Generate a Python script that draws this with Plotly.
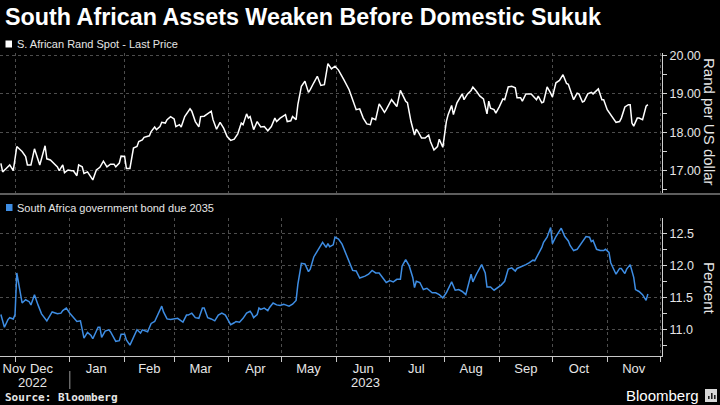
import plotly.graph_objects as go

TITLE = "South African Assets Weaken Before Domestic Sukuk"
RAND_NAME = "S. African Rand Spot - Last Price"
BOND_NAME = "South Africa government bond due 2035"

rand_dates = [
    "2022-11-23", "2022-11-24", "2022-11-26", "2022-11-28", "2022-11-30",
    "2022-12-02", "2022-12-05", "2022-12-07", "2022-12-08", "2022-12-10", "2022-12-12", "2022-12-14",
    "2022-12-15", "2022-12-18", "2022-12-19", "2022-12-21", "2022-12-23", "2022-12-25", "2022-12-26",
    "2022-12-28", "2022-12-29", "2022-12-31",
    "2023-01-02", "2023-01-03", "2023-01-05", "2023-01-06", "2023-01-08", "2023-01-09", "2023-01-11",
    "2023-01-12", "2023-01-14", "2023-01-16", "2023-01-18", "2023-01-20", "2023-01-22", "2023-01-24",
    "2023-01-26", "2023-01-27", "2023-01-29", "2023-01-30",
    "2023-02-01", "2023-02-02", "2023-02-04", "2023-02-06", "2023-02-08", "2023-02-09", "2023-02-11",
    "2023-02-12", "2023-02-15", "2023-02-16", "2023-02-18", "2023-02-19", "2023-02-21", "2023-02-22",
    "2023-02-24", "2023-02-25", "2023-02-27",
    "2023-03-01", "2023-03-02", "2023-03-04", "2023-03-05", "2023-03-07", "2023-03-10", "2023-03-11",
    "2023-03-13", "2023-03-15", "2023-03-16", "2023-03-18", "2023-03-20", "2023-03-22", "2023-03-23",
    "2023-03-25", "2023-03-27", "2023-03-29", "2023-03-31",
    "2023-04-02", "2023-04-04", "2023-04-06", "2023-04-08", "2023-04-09", "2023-04-11", "2023-04-12",
    "2023-04-13", "2023-04-15", "2023-04-17", "2023-04-19", "2023-04-21", "2023-04-23", "2023-04-25",
    "2023-04-27", "2023-04-28", "2023-04-30",
    "2023-05-03", "2023-05-04", "2023-05-06", "2023-05-07", "2023-05-09", "2023-05-10", "2023-05-12",
    "2023-05-14", "2023-05-16", "2023-05-17", "2023-05-19", "2023-05-21", "2023-05-23", "2023-05-25",
    "2023-05-27", "2023-05-29", "2023-05-31",
    "2023-06-02", "2023-06-05", "2023-06-08", "2023-06-10", "2023-06-12", "2023-06-14", "2023-06-16",
    "2023-06-18", "2023-06-20", "2023-06-21", "2023-06-23", "2023-06-25", "2023-06-28", "2023-06-29",
    "2023-07-02", "2023-07-05", "2023-07-07", "2023-07-10", "2023-07-11", "2023-07-13", "2023-07-15",
    "2023-07-16", "2023-07-17", "2023-07-19", "2023-07-21", "2023-07-23", "2023-07-24", "2023-07-26",
    "2023-07-28", "2023-07-29", "2023-07-31",
    "2023-08-02", "2023-08-03", "2023-08-05", "2023-08-06", "2023-08-08", "2023-08-10", "2023-08-11",
    "2023-08-12", "2023-08-14", "2023-08-16", "2023-08-17", "2023-08-19", "2023-08-21", "2023-08-23",
    "2023-08-24", "2023-08-25", "2023-08-26", "2023-08-27", "2023-08-29", "2023-08-30",
    "2023-09-01", "2023-09-03", "2023-09-04", "2023-09-06", "2023-09-08", "2023-09-10", "2023-09-11",
    "2023-09-13", "2023-09-14", "2023-09-16", "2023-09-19", "2023-09-20", "2023-09-22", "2023-09-23",
    "2023-09-25", "2023-09-26", "2023-09-28", "2023-09-30",
    "2023-10-01", "2023-10-03", "2023-10-05", "2023-10-07", "2023-10-09", "2023-10-10", "2023-10-13",
    "2023-10-15", "2023-10-16", "2023-10-18", "2023-10-19", "2023-10-21", "2023-10-23", "2023-10-24",
    "2023-10-27", "2023-10-29", "2023-10-30",
    "2023-11-01", "2023-11-03", "2023-11-06", "2023-11-08", "2023-11-09", "2023-11-11", "2023-11-13",
    "2023-11-14", "2023-11-15", "2023-11-16", "2023-11-18", "2023-11-19", "2023-11-21", "2023-11-23",
    "2023-11-24",
]
rand_values = [
    17.19, 16.97, 17.06, 17.15, 17.00,
    17.63, 17.50, 17.37, 17.15, 17.15, 17.57, 17.28,
    17.15, 17.65, 17.31, 17.28, 17.19, 17.10, 17.00,
    17.15, 16.95, 17.02,
    17.00, 17.00, 16.87, 17.15, 17.10, 16.93, 16.97,
    16.89, 16.76, 17.02, 17.09, 17.25, 17.10, 17.17,
    17.17, 17.10, 17.20, 17.38,
    17.37, 17.06, 17.06, 17.59, 17.63, 17.76, 17.80,
    17.87, 17.91, 18.02, 18.14, 18.07, 18.15, 18.26,
    18.24, 18.33, 18.41,
    18.35, 18.15, 18.20, 18.14, 18.41, 18.61, 18.55,
    18.28, 18.14, 18.41, 18.42, 18.48, 18.55, 18.33,
    18.08, 18.26, 18.11, 17.89,
    17.79, 17.82, 17.96, 18.24, 18.20, 18.48, 18.37,
    18.41, 18.07, 18.28, 18.14, 18.15, 18.04, 18.15,
    18.37, 18.28, 18.37,
    18.46, 18.28, 18.30, 18.41, 18.33, 18.72, 19.20,
    19.33, 19.04, 19.11, 19.29, 19.46, 19.22, 19.24,
    19.79, 19.65, 19.72,
    19.62, 19.37, 19.11, 18.85, 18.59, 18.61, 18.37,
    18.22, 18.20, 18.37, 18.33, 18.74, 18.52, 18.59,
    18.85, 18.67, 19.09, 18.81, 18.77, 18.28, 17.93,
    18.08, 18.02, 17.85, 17.85, 17.93, 17.76, 17.54,
    17.63, 17.82, 17.61,
    18.28, 18.46, 18.70, 18.46, 18.77, 18.94, 19.00,
    18.85, 19.00, 19.09, 19.18, 19.07, 18.94, 18.87,
    18.70, 18.48, 18.81, 18.63, 18.59, 18.50,
    18.67, 18.87, 18.85, 19.18, 19.20, 19.16, 18.90,
    18.90, 18.81, 19.00, 19.00, 18.94, 18.85, 18.94,
    18.77, 18.79, 19.18, 19.02,
    18.92, 19.29, 19.35, 19.50, 19.27, 19.25, 18.85,
    19.02, 19.00, 18.79, 18.81, 19.00, 19.04, 19.00,
    19.13, 18.85, 18.85,
    18.59, 18.46, 18.26, 18.28, 18.37, 18.66, 18.72,
    18.72, 18.24, 18.16, 18.37, 18.37, 18.33, 18.68,
    18.72,
]

bond_dates = [
    "2022-11-23", "2022-11-25", "2022-11-27", "2022-11-28", "2022-11-30",
    "2022-12-01", "2022-12-02", "2022-12-04", "2022-12-05", "2022-12-07", "2022-12-09", "2022-12-10",
    "2022-12-12", "2022-12-14", "2022-12-16", "2022-12-19", "2022-12-21", "2022-12-22", "2022-12-25",
    "2022-12-27", "2022-12-28", "2022-12-30",
    "2023-01-01", "2023-01-03", "2023-01-05", "2023-01-07", "2023-01-09", "2023-01-11", "2023-01-13",
    "2023-01-14", "2023-01-17", "2023-01-18", "2023-01-19", "2023-01-21", "2023-01-23", "2023-01-24",
    "2023-01-27", "2023-01-29", "2023-01-30",
    "2023-02-01", "2023-02-02", "2023-02-04", "2023-02-06", "2023-02-08", "2023-02-10", "2023-02-11",
    "2023-02-14", "2023-02-16", "2023-02-18", "2023-02-20", "2023-02-22", "2023-02-23", "2023-02-25",
    "2023-02-27",
    "2023-03-02", "2023-03-03", "2023-03-05", "2023-03-06", "2023-03-08", "2023-03-09", "2023-03-11",
    "2023-03-13", "2023-03-15", "2023-03-17", "2023-03-18", "2023-03-20", "2023-03-22", "2023-03-24",
    "2023-03-26", "2023-03-28", "2023-03-30",
    "2023-04-02", "2023-04-04", "2023-04-05", "2023-04-07", "2023-04-09", "2023-04-11", "2023-04-13",
    "2023-04-14", "2023-04-15", "2023-04-17", "2023-04-18", "2023-04-19", "2023-04-21", "2023-04-23",
    "2023-04-24", "2023-04-26", "2023-04-28", "2023-04-30",
    "2023-05-02", "2023-05-03", "2023-05-05", "2023-05-07", "2023-05-09", "2023-05-10", "2023-05-12",
    "2023-05-14", "2023-05-16", "2023-05-17", "2023-05-19", "2023-05-21", "2023-05-23", "2023-05-24",
    "2023-05-26", "2023-05-27", "2023-05-28", "2023-05-30", "2023-05-31",
    "2023-06-02", "2023-06-04", "2023-06-07", "2023-06-10", "2023-06-12", "2023-06-14", "2023-06-17",
    "2023-06-19", "2023-06-21", "2023-06-23", "2023-06-25", "2023-06-28", "2023-06-29",
    "2023-07-01", "2023-07-03", "2023-07-05", "2023-07-07", "2023-07-08", "2023-07-10", "2023-07-12",
    "2023-07-14", "2023-07-15", "2023-07-16", "2023-07-18", "2023-07-20", "2023-07-22", "2023-07-24",
    "2023-07-25", "2023-07-27", "2023-07-29", "2023-07-31",
    "2023-08-02", "2023-08-05", "2023-08-07", "2023-08-09", "2023-08-11", "2023-08-13", "2023-08-15",
    "2023-08-16", "2023-08-17", "2023-08-19", "2023-08-22", "2023-08-24", "2023-08-25", "2023-08-27",
    "2023-08-29", "2023-08-31",
    "2023-09-02", "2023-09-04", "2023-09-06", "2023-09-08", "2023-09-10", "2023-09-11", "2023-09-13",
    "2023-09-16", "2023-09-18", "2023-09-20", "2023-09-21", "2023-09-23", "2023-09-25", "2023-09-26",
    "2023-09-28", "2023-09-30",
    "2023-10-01", "2023-10-03", "2023-10-06", "2023-10-08", "2023-10-10", "2023-10-11", "2023-10-13",
    "2023-10-15", "2023-10-17", "2023-10-18", "2023-10-20", "2023-10-22", "2023-10-23", "2023-10-24",
    "2023-10-26", "2023-10-28", "2023-10-30", "2023-10-31",
    "2023-11-02", "2023-11-03", "2023-11-05", "2023-11-06", "2023-11-08", "2023-11-09", "2023-11-11",
    "2023-11-12", "2023-11-14", "2023-11-16", "2023-11-17", "2023-11-19", "2023-11-21", "2023-11-23",
    "2023-11-24",
]
bond_values = [
    11.23, 11.03, 11.15, 11.18, 11.16,
    11.23, 11.88, 11.54, 11.41, 11.46, 11.43, 11.38,
    11.54, 11.38, 11.24, 11.13, 11.22, 11.27, 11.24,
    11.25, 11.29, 11.33,
    11.25, 11.18, 11.12, 11.13, 10.86, 10.95, 10.90,
    10.85, 11.03, 11.03, 10.87, 10.97, 10.99, 10.96,
    10.81, 10.82, 10.92,
    10.92, 10.83, 10.75, 10.88, 10.99, 10.94, 10.99,
    10.96, 11.09, 11.12, 11.23, 11.36, 11.27, 11.16,
    11.15,
    11.16, 11.17, 11.13, 11.11, 11.22, 11.22, 11.25,
    11.18, 11.17, 11.33, 11.33, 11.18, 11.16, 11.13,
    11.22, 11.25, 11.22,
    11.07, 11.10, 11.12, 11.11, 11.17, 11.25, 11.28,
    11.24, 11.18, 11.23, 11.33, 11.31, 11.33, 11.29,
    11.34, 11.41, 11.38, 11.37,
    11.39, 11.38, 11.36, 11.39, 11.45, 11.70, 12.03,
    12.02, 11.90, 11.94, 12.13, 12.22, 12.33, 12.36,
    12.28, 12.34, 12.29, 12.32, 12.44,
    12.41, 12.33, 12.12, 11.92, 11.91, 11.80, 11.83,
    11.86, 11.92, 11.88, 11.88, 11.78, 11.73,
    11.76, 11.74, 11.78, 11.78, 11.99, 12.09, 11.99,
    11.81, 11.65, 11.75, 11.73, 11.62, 11.64, 11.59,
    11.57, 11.57, 11.54, 11.49,
    11.57, 11.74, 11.61, 11.62, 11.59, 11.54, 11.73,
    11.86, 11.74, 11.86, 12.01, 11.88, 11.66, 11.66,
    11.61, 11.65,
    11.69, 11.75, 11.94, 11.96, 11.91, 11.95, 11.97,
    12.01, 12.04, 12.08, 12.07, 12.17, 12.28, 12.36,
    12.44, 12.59,
    12.34, 12.45, 12.58, 12.45, 12.38, 12.31, 12.23,
    12.25, 12.33, 12.36, 12.45, 12.44, 12.37, 12.39,
    12.25, 12.23, 12.23, 12.25,
    12.20, 12.04, 11.91, 11.86, 11.95, 11.95, 11.87,
    11.94, 12.01, 11.81, 11.62, 11.59, 11.54, 11.45,
    11.55,
]

month_tick_dates = ["2022-11-30T12:00", "2022-12-16", "2023-01-16", "2023-02-15", "2023-03-16",
                    "2023-04-16", "2023-05-16", "2023-06-16", "2023-07-16", "2023-08-16",
                    "2023-09-16", "2023-10-16", "2023-11-16"]
month_tick_labels = ["Nov", "Dec", "Jan", "Feb", "Mar", "Apr", "May", "Jun", "Jul", "Aug",
                     "Sep", "Oct", "Nov"]
year_labels = ["2022", "2023"]
year_label_dates = ["2022-12-11", "2023-06-17"]
year_boundary = "2023-01-01"
rand_ticks = [17, 18, 19, 20]
bond_ticks = [11.0, 11.5, 12.0, 12.5]

X_RANGE = ["2022-11-22T12:00", "2023-12-02"]

# ---- layout geometry (pixels) ----
W, H = 720, 405
ML, MR, MT, MB = 0, 58, 53, 49
PW, PH = W - ML - MR, H - MT - MB


def px(x):
    return (x - ML) / PW


def py(y):
    return (H - MB - y) / PH


BG = "#000000"
FG = "#e6e6e6"
GRID = "#4d4d4d"
BLUE = "#3e8de3"
FONT = "Liberation Sans, Arial, sans-serif"

fig = go.Figure()
fig.add_trace(go.Scatter(x=rand_dates, y=rand_values, mode="lines", name=RAND_NAME,
                         line=dict(color="#ffffff", width=1.5), xaxis="x", yaxis="y",
                         showlegend=False))
fig.add_trace(go.Scatter(x=bond_dates, y=bond_values, mode="lines", name=BOND_NAME,
                         line=dict(color=BLUE, width=1.5), xaxis="x2", yaxis="y2",
                         showlegend=False))

common_x = dict(type="date", range=X_RANGE, showgrid=False, zeroline=False,
                minor=dict(dtick="M1", tick0="2022-12-01", showgrid=True, gridcolor=GRID,
                           griddash="dot", gridwidth=1))

fig.update_layout(
    width=W, height=H,
    paper_bgcolor=BG, plot_bgcolor=BG,
    margin=dict(l=ML, r=MR, t=MT, b=MB, pad=0),
    font=dict(family=FONT, color=FG, size=12),
    xaxis=dict(common_x, domain=[0, 1], anchor="y", showticklabels=False, ticks="",
               showline=False, matches="x2"),
    xaxis2=dict(common_x, domain=[0, 1], anchor="y2", showline=True, linecolor="#c8c8c8",
                linewidth=1, tickmode="array", tickvals=month_tick_dates,
                ticktext=month_tick_labels, ticks="", tickfont=dict(size=13, color=FG),
                minor=dict(dtick="M1", tick0="2022-12-01", showgrid=True, gridcolor=GRID,
                           griddash="dot", gridwidth=1, ticks="outside", ticklen=5,
                           tickcolor="#c8c8c8")),
    yaxis=dict(domain=[py(193), 1], anchor="x", side="right", range=[16.42, 20.065],
               tickmode="array", tickvals=rand_ticks, tickformat=".2f",
               showgrid=True, gridcolor=GRID, griddash="dot", zeroline=False,
               showline=True, linecolor="#d0d0d0", linewidth=1,
               ticks="outside", ticklen=4, tickcolor="#d0d0d0",
               minor=dict(dtick=0.5, tick0=17, ticks="outside", ticklen=4, tickcolor="#d0d0d0"),
               tickfont=dict(size=12.5, color=FG)),
    yaxis2=dict(domain=[0, py(218)], anchor="x2", side="right", range=[10.58, 12.74],
                tickmode="array", tickvals=bond_ticks, tickformat=".1f",
                showgrid=True, gridcolor=GRID, griddash="dot", zeroline=False,
                showline=True, linecolor="#d0d0d0", linewidth=1,
                ticks="outside", ticklen=4, tickcolor="#d0d0d0",
                minor=dict(dtick=0.25, tick0=11, ticks="outside", ticklen=4, tickcolor="#d0d0d0"),
                tickfont=dict(size=12.5, color=FG)),
)

shapes = [
    # panel separator
    dict(type="line", xref="paper", yref="paper", x0=px(0), x1=px(W), y0=py(194), y1=py(194),
         line=dict(color="#5e5e5e", width=2)),
    # year separator
    dict(type="line", xref="x2", yref="paper", x0=year_boundary, x1=year_boundary,
         y0=py(371), y1=py(389), line=dict(color="#9a9a9a", width=1)),
    # legend squares
    dict(type="rect", xref="paper", yref="paper", x0=px(5.5), x1=px(12), y0=py(47.5), y1=py(40.5),
         fillcolor="#ffffff", line=dict(width=0)),
    dict(type="rect", xref="paper", yref="paper", x0=px(6), x1=px(12.5), y0=py(211), y1=py(204),
         fillcolor=BLUE, line=dict(width=0)),
    # bloomberg icon
    dict(type="rect", xref="paper", yref="paper", x0=px(705), x1=px(717), y0=py(402), y1=py(389),
         fillcolor="#d8d8d8", line=dict(width=0)),
]
for bx, top in [(708, 396), (711, 393), (714, 395)]:
    shapes.append(dict(type="rect", xref="paper", yref="paper", x0=px(bx), x1=px(bx + 1.6),
                       y0=py(399), y1=py(top), fillcolor="#202020", line=dict(width=0)))
fig.update_layout(shapes=shapes)

ann = [
    dict(text=f"<b>{TITLE}</b>", x=px(3), y=py(17), font=dict(size=23.3, color="#ffffff")),
    dict(text=RAND_NAME, x=px(15), y=py(44), font=dict(size=11, color=FG)),
    dict(text=BOND_NAME, x=px(15), y=py(207.5), font=dict(size=11, color=FG)),
    dict(text="<b>Source: Bloomberg</b>", x=px(3), y=py(397),
         font=dict(size=11, color=FG, family="DejaVu Sans Mono, monospace")),
    dict(text="Bloomberg", x=px(701), y=py(395), xanchor="right",
         font=dict(size=15, color="#ffffff")),
]
for a in ann:
    a.setdefault("xanchor", "left")
    fig.add_annotation(xref="paper", yref="paper", yanchor="middle", showarrow=False, **a)

for lab, d in zip(year_labels, year_label_dates):
    fig.add_annotation(text=lab, x=d, xref="x2", y=py(382), yref="paper", xanchor="center",
                       yanchor="middle", showarrow=False, font=dict(size=13, color=FG))

fig.add_annotation(text="Rand per US dollar", x=px(710), y=py(122), xref="paper", yref="paper",
                   textangle=90, showarrow=False, xanchor="center", yanchor="middle",
                   font=dict(size=15, color=FG))
fig.add_annotation(text="Percent", x=px(710), y=py(288), xref="paper", yref="paper",
                   textangle=90, showarrow=False, xanchor="center", yanchor="middle",
                   font=dict(size=15, color=FG))

fig.write_html("out.html",
               config={"displayModeBar": False},
               post_script="document.body.style.margin='0';document.body.style.background='#000';")
